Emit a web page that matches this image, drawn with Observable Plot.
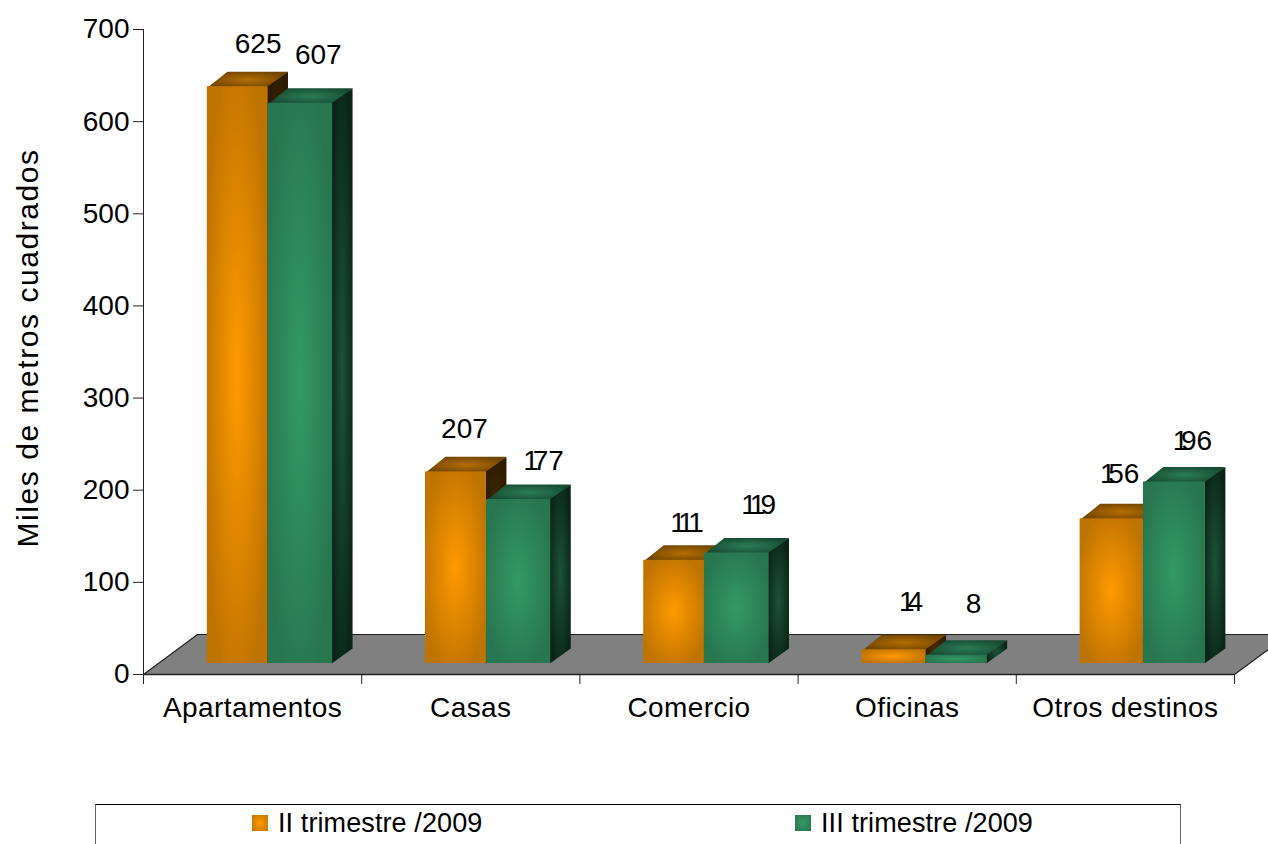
<!DOCTYPE html>
<html lang="es">
<head>
<meta charset="utf-8">
<script src="https://cdn.jsdelivr.net/npm/d3@7"></script>
<script src="https://cdn.jsdelivr.net/npm/@observablehq/plot@0.6"></script>
<style>
  html, body { margin: 0; padding: 0; background: #fff; overflow: hidden; height: 844px; }
  #chart { position: absolute; left: 0; top: 0; }
  #chart svg { display: block; max-width: none; }
  .ytitle text { letter-spacing: 1.55px; }
  .xlabel text { letter-spacing: 0.4px; }
  #legend { position: absolute; left: 95px; top: 804px; width: 1086px; height: 60px; box-sizing: border-box;
    border-top: 1px solid #000; border-left: 1px solid #666; border-right: 1px solid #666;
    font: 27px "Liberation Sans", Arial, sans-serif; letter-spacing: 0.1px; color: #000; }
  .key { position: absolute; top: 0; display: flex; align-items: center; height: 36px; }
  .swatch { width: 16px; height: 16px; margin-right: 10px; }
</style>
</head>
<body>
<div id="chart"></div>
<div id="legend"></div>
<script>
const categories = ["Apartamentos", "Casas", "Comercio", "Oficinas", "Otros destinos"];
const seriesNames = ["II trimestre /2009", "III trimestre /2009"];
const trimestreII = [625, 207, 111, 14, 156];
const trimestreIII = [607, 177, 119, 8, 196];
const yTicks = [0, 100, 200, 300, 400, 500, 600, 700];
const yTitle = "Miles de metros cuadrados";

// Oblique "3D" geometry, expressed in scale units
const barLeft = 0.2925, barRight = 0.8665;
const barSplit = [0.5705, 0.5715, 0.5705, 0.5865, 0.5825];
const barDepthX = 0.0917, barDepthY = 16.3, barBase = 11.9, barTopLift = 1;
const floorDepthX = 0.2475, floorDepthY = 43.4;
// Hand placement of the data labels (px), as in the source chart
const labelNudgeX = [[10.5, -1.5, 3, 7, -2], [8, 15, 12, 7, 8]];
const labelNudgeY = [[0, 0, 6, -5, -2], [-5, 5, -5, -8, 2]];
// The source draws a digit 1 tight against the digit that follows it (px)
const oneTracking = [[0, 0, -5.5, -7, -7.4], [0, -6, -5, 0, -7.4]];

const palette = [
  {front: ["#ff9a00", "#c07400"], top: ["#b56e00", "#6e4400"], side: ["#4a2d00", "#2e1c00"], key: "a"},
  {front: ["#339966", "#287650"], top: ["#2a7d55", "#174a32"], side: ["#1c5238", "#0a2517"], key: "b"}
];

function defs() {
  const d = d3.create("svg:defs");
  for (const p of palette) for (const face of ["front", "top", "side"]) {
    const g = d.append("radialGradient").attr("id", p.key + face)
      .attr("cx", 0.5).attr("cy", 0.5).attr("r", 0.56);
    g.append("stop").attr("offset", "0%").attr("stop-color", p[face][0]);
    g.append("stop").attr("offset", "100%").attr("stop-color", p[face][1]);
  }
  return d.node();
}

const floor = [
  [0, 0], [5, 0], [5 + floorDepthX, floorDepthY], [floorDepthX, floorDepthY], [0, 0]
].map(([x, y]) => ({x, y}));

const slotOf = (i, s) => (s === 0 ? [barLeft, barSplit[i]] : [barSplit[i], barRight]);

function seriesMarks(values, s) {
  const bars = values.map((v, i) => ({
    x1: i + slotOf(i, s)[0], x2: i + slotOf(i, s)[1], y1: barBase, y2: barBase + barTopLift + v, i
  }));
  // Top and side faces tuck slightly behind the front face so no seam shows
  const top = bars.flatMap((b) => [
    [b.x1, b.y2 - 1], [b.x2, b.y2 - 1], [b.x2 + barDepthX, b.y2 + barDepthY], [b.x1 + barDepthX, b.y2 + barDepthY]
  ].map(([x, y]) => ({x, y, z: b.i})));
  const side = bars.flatMap((b) => [
    [b.x2 - 0.004, b.y1], [b.x2 - 0.004, b.y2], [b.x2 + barDepthX, b.y2 + barDepthY], [b.x2 + barDepthX, b.y1 + barDepthY]
  ].map(([x, y]) => ({x, y, z: b.i})));
  const k = palette[s].key;
  return [
    Plot.line(top, {x: "x", y: "y", z: "z", fill: `url(#${k}top)`, stroke: "none"}),
    Plot.line(side, {x: "x", y: "y", z: "z", fill: `url(#${k}side)`, stroke: "none"}),
    Plot.rect(bars, {x1: "x1", x2: "x2", y1: "y1", y2: "y2", fill: `url(#${k}front)`})
  ];
}

// Wraps every non-final "1" of a label in a tspan with negative letter spacing
function tightenOnes(tracking) {
  return (index, scales, values, dimensions, context, next) => {
    const g = next(index, scales, values, dimensions, context);
    if (!tracking) return g;
    d3.select(g).selectAll("text").each(function () {
      const chars = Array.from(this.textContent);
      const node = d3.select(this).text(null);
      chars.forEach((c, j) => {
        const t = node.append("tspan").text(c);
        if (c === "1" && j < chars.length - 1) t.style("letter-spacing", tracking + "px");
      });
    });
    return g;
  };
}

function labelMarks(values, s) {
  return values.map((v, i) => Plot.text([v], {
    x: () => i + (slotOf(i, s)[0] + slotOf(i, s)[1]) / 2 + barDepthX / 2,
    y: (d) => barBase + d,
    text: (d) => String(d),
    dx: labelNudgeX[s][i],
    dy: -44 + labelNudgeY[s][i],
    fontSize: 28,
    textAnchor: "middle",
    lineAnchor: "middle",
    render: tightenOnes(oneTracking[s][i])
  }));
}

const chart = Plot.plot({
  width: 1268,
  height: 800,
  marginTop: 29,
  marginBottom: 126,
  marginLeft: 143,
  marginRight: 34,
  style: {fontFamily: '"Liberation Sans", Arial, sans-serif', color: "#000", background: "#fff"},
  x: {type: "linear", domain: [0, 5]},
  y: {type: "linear", domain: [0, 700]},
  marks: [
    defs,
    Plot.line(floor, {x: "x", y: "y", fill: "#808080", stroke: "#222", strokeWidth: 1.2}),
    Plot.ruleX([0], {y1: 0, y2: 700, stroke: "#222"}),
    Plot.ruleY([0], {x1: 0, x2: 5, stroke: "#222", strokeWidth: 1.5}),
    Plot.axisY({ticks: yTicks, tickSize: 10, tickPadding: 4, fontSize: 28, label: null, stroke: "#222"}),
    Plot.axisX({ticks: d3.range(0, 6), tickSize: 10, tickFormat: () => "", label: null, stroke: "#222"}),
    Plot.axisX({
      ticks: categories.map((_, i) => i + 0.5), tickSize: 0, tickPadding: 23, fontSize: 28,
      label: null, className: "xlabel",
      tickFormat: (d) => categories[Math.floor(d)]
    }),
    Plot.text([yTitle], {
      text: (d) => d, frameAnchor: "left", textAnchor: "middle", rotate: -90, dx: -115, dy: -4,
      fontSize: 30, className: "ytitle"
    }),
    ...seriesMarks(trimestreII, 0),
    ...seriesMarks(trimestreIII, 1),
    ...labelMarks(trimestreII, 0),
    ...labelMarks(trimestreIII, 1)
  ]
});
document.getElementById("chart").append(chart);

const legend = d3.select("#legend");
const keyLeft = [156, 699];
seriesNames.forEach((name, s) => {
  const key = legend.append("div").attr("class", "key").style("left", keyLeft[s] + "px");
  key.append("div").attr("class", "swatch")
    .style("background", `radial-gradient(circle, ${palette[s].front[0]}, ${palette[s].front[1]})`);
  key.append("span").text(name);
});
</script>
</body>
</html>
